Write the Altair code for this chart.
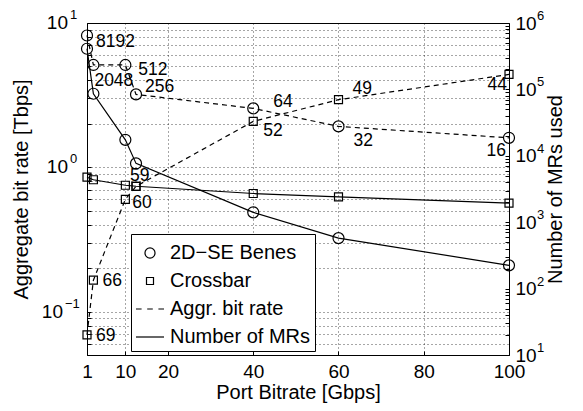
import altair as alt
import pandas as pd

# ---------------- data ----------------
port_bitrate = [1, 2.5, 10, 12.5, 40, 60, 100]
benes_ports = ["8192", "2048", "512", "256", "64", "32", "16"]
benes_rate = [8.192, 5.12, 5.12, 3.2, 2.56, 1.92, 1.6]          # Tbps
benes_mrs = [409600, 86016, 17408, 7680, 1408, 576, 224]        # MRs
xbar_ports = ["69", "66", "60", "59", "52", "49", "44"]
xbar_rate = [0.069, 0.165, 0.6, 0.7375, 2.08, 2.94, 4.4]        # Tbps
xbar_mrs = [4761, 4356, 3600, 3481, 2704, 2401, 1936]           # MRs

legend_entries = ["2D\u2212SE Benes", "Crossbar", "Aggr. bit rate", "Number of MRs"]
x_ticks = [1, 10, 20, 40, 60, 80, 100]
left_major = [0.1, 1, 10]
left_exp = ["\u22121", "0", "1"]
left_grid = [0.05, 0.06, 0.07, 0.08, 0.09, 0.1, 0.2, 0.3, 0.4, 0.5, 0.6, 0.7,
             0.8, 0.9, 1, 2, 3, 4, 5, 6, 7, 8, 9, 10]
right_major = [10, 100, 1000, 10000, 100000, 1000000]
right_exp = ["1", "2", "3", "4", "5", "6"]
right_ticks = [m * k for m in right_major[:-1] for k in range(1, 10)] + [right_major[-1]]

rows = []
for i, xv in enumerate(port_bitrate):
    rows.append(dict(design=legend_entries[0], x=xv, rate=benes_rate[i],
                     mrs=benes_mrs[i], ports=benes_ports[i]))
for i, xv in enumerate(port_bitrate):
    rows.append(dict(design=legend_entries[1], x=xv, rate=xbar_rate[i],
                     mrs=xbar_mrs[i], ports=xbar_ports[i]))
df = pd.DataFrame(rows)

left_ticks_df = pd.DataFrame({"x": [1] * len(left_major), "rate": left_major,
                              "exp": left_exp})
right_ticks_df = pd.DataFrame({"x": [100] * len(right_major), "mrs": right_major,
                               "exp": right_exp})

# ---------------- styling ----------------
FONT = "Liberation Sans"
W, H = 422, 332
TICK_FS = 19
TITLE_FS = 20
EXP_FS = 13
TK = 4  # inward tick length (axis moved inside by TK, ticks point outwards)

# label offsets (pixels) : (dx, dy, align)
label_style = {
    (legend_entries[0], "8192"): (9, 7, "left"),
    (legend_entries[0], "2048"): (1, 16, "left"),
    (legend_entries[0], "512"): (13, 5, "left"),
    (legend_entries[0], "256"): (9, -7, "left"),
    (legend_entries[0], "64"): (20, -6, "left"),
    (legend_entries[0], "32"): (15, 15, "left"),
    (legend_entries[0], "16"): (-3, 13, "right"),
    (legend_entries[1], "69"): (9, 1, "left"),
    (legend_entries[1], "66"): (9, 1, "left"),
    (legend_entries[1], "60"): (7, 4, "left"),
    (legend_entries[1], "59"): (-6, -10, "left"),
    (legend_entries[1], "52"): (10, 10, "left"),
    (legend_entries[1], "49"): (14, -11, "left"),
    (legend_entries[1], "44"): (-2, 11, "right"),
}

# custom symbols: unit coords scaled by sqrt(size)/2
circle_path = "M-0.36,0 A0.36,0.36 0 1,0 0.36,0 A0.36,0.36 0 1,0 -0.36,0 Z"
square_path = "M-0.25,-0.25 L0.25,-0.25 L0.25,0.25 L-0.25,0.25 Z"
dash_path = "M-1,0 L-0.6,0 M-0.2,0 L0.2,0 M0.6,0 L1,0"
solid_path = "M-1,0 L1,0"
marker_size = {legend_entries[0]: 934, legend_entries[1]: 1024}

common_axis = dict(labelFont=FONT, titleFont=FONT, labelColor="black",
                   titleColor="black", titleFontWeight="normal",
                   labelOverlap=False, labelFlush=False, ticks=True,
                   tickSize=TK, tickColor="black", tickWidth=1, offset=-TK,
                   domain=False, labelFontSize=TICK_FS, titleFontSize=TITLE_FS)

x_enc = alt.X(
    "x:Q",
    scale=alt.Scale(domain=[1, 100], nice=False, zero=False),
    axis=alt.Axis(values=x_ticks, title="Port Bitrate [Gbps]", grid=True,
                  gridDash=[1, 3], gridColor="#000000", gridOpacity=0.7,
                  gridWidth=1, labelPadding=7, titlePadding=1, **common_axis),
)

y_left = alt.Y(
    "rate:Q",
    scale=alt.Scale(type="log", domain=[0.05, 10], nice=False),
    axis=alt.Axis(values=left_grid, labels=False,
                  title="Aggregate bit rate [Tbps]", grid=True,
                  gridDash=[1, 3], gridColor="#000000", gridOpacity=0.7,
                  titlePadding=55, orient="left", **common_axis),
)

y_right = alt.Y(
    "mrs:Q",
    scale=alt.Scale(type="log", domain=[10, 1000000], nice=False),
    axis=alt.Axis(values=right_ticks,
                  labelExpr="abs(log(datum.value)/LN10 - round(log(datum.value)/LN10)) < 1e-6 ? '10' : ''",
                  title="Number of MRs used", grid=False,
                  labelPadding=6, titlePadding=29, titleAngle=270,
                  orient="right", **common_axis),
)

shape_enc = alt.Shape(
    "design:N",
    scale=alt.Scale(domain=legend_entries,
                    range=[circle_path, square_path, dash_path, solid_path]),
    legend=alt.Legend(title=None, orient="none", legendX=44, legendY=211,
                      fillColor="white", strokeColor="black", padding=4,
                      symbolSize=784, symbolStrokeWidth=1.2,
                      symbolStrokeColor="black", symbolFillColor="transparent",
                      labelFontSize=TITLE_FS, labelFont=FONT, labelColor="black",
                      labelOffset=5, rowPadding=3, cornerRadius=0,
                      symbolOpacity=1),
)

base = alt.Chart(df)

# ---------- left axis group: aggregate bit rate ----------
left_line = base.mark_line(color="black", strokeWidth=1.2,
                           strokeDash=[5, 4]).encode(
    x=x_enc, y=y_left, detail="design:N")

left_pts = [
    base.transform_filter(alt.datum.design == d).mark_point(
        filled=False, color="black", strokeWidth=1.2, opacity=1,
        size=marker_size[d]).encode(x=x_enc, y=y_left, shape=shape_enc)
    for d in legend_entries[:2]
]

texts = []
for (design, port), (dx, dy, align) in label_style.items():
    texts.append(
        base.transform_filter(
            (alt.datum.design == design) & (alt.datum.ports == port)
        ).mark_text(dx=dx, dy=dy, align=align, baseline="middle",
                    font=FONT, fontSize=17.5, color="black").encode(
            x=x_enc, y=y_left, text="ports:N")
    )

lt = alt.Chart(left_ticks_df)
left_base_main = lt.transform_filter(alt.datum.rate >= 1).mark_text(
    align="right", baseline="middle", dx=-19, dy=0, font=FONT,
    fontSize=TICK_FS, color="black").encode(x=x_enc, y=y_left, text=alt.value("10"))
left_base_neg = lt.transform_filter(alt.datum.rate < 1).mark_text(
    align="right", baseline="middle", dx=-24, dy=0, font=FONT,
    fontSize=TICK_FS, color="black").encode(x=x_enc, y=y_left, text=alt.value("10"))
left_exp_main = lt.transform_filter(alt.datum.rate >= 1).mark_text(
    align="left", baseline="middle", dx=-17, dy=-8, font=FONT,
    fontSize=EXP_FS, color="black").encode(x=x_enc, y=y_left, text="exp:N")
left_exp_neg = lt.transform_filter(alt.datum.rate < 1).mark_text(
    align="left", baseline="middle", dx=-22, dy=-8, font=FONT,
    fontSize=EXP_FS, color="black").encode(x=x_enc, y=y_left, text="exp:N")

left = alt.layer(left_line, *left_pts, *texts, left_base_main, left_base_neg,
                 left_exp_main, left_exp_neg)

# ---------- right axis group: number of MRs ----------
right_line = base.mark_line(color="black", strokeWidth=1.2).encode(
    x=x_enc, y=y_right, detail="design:N")
right_pts = [
    base.transform_filter(alt.datum.design == d).mark_point(
        filled=False, color="black", strokeWidth=1.2, opacity=1,
        size=marker_size[d]).encode(x=x_enc, y=y_right, shape=shape_enc)
    for d in legend_entries[:2]
]
right_exp = alt.Chart(right_ticks_df).mark_text(
    align="left", baseline="middle", dx=28, dy=-7, font=FONT,
    fontSize=EXP_FS, color="black").encode(x=x_enc, y=y_right, text="exp:N")

right = alt.layer(right_line, *right_pts, right_exp)

chart = alt.layer(left, right).resolve_scale(y="independent").properties(
    width=W, height=H,
    autosize=alt.AutoSizeParams(type="none"),
    padding={"left": 79, "top": 15, "right": 66, "bottom": 48},
    background="white",
).configure_view(stroke="black", strokeWidth=1)

chart.save("out.html", embed_options={"renderer": "svg", "actions": False})
